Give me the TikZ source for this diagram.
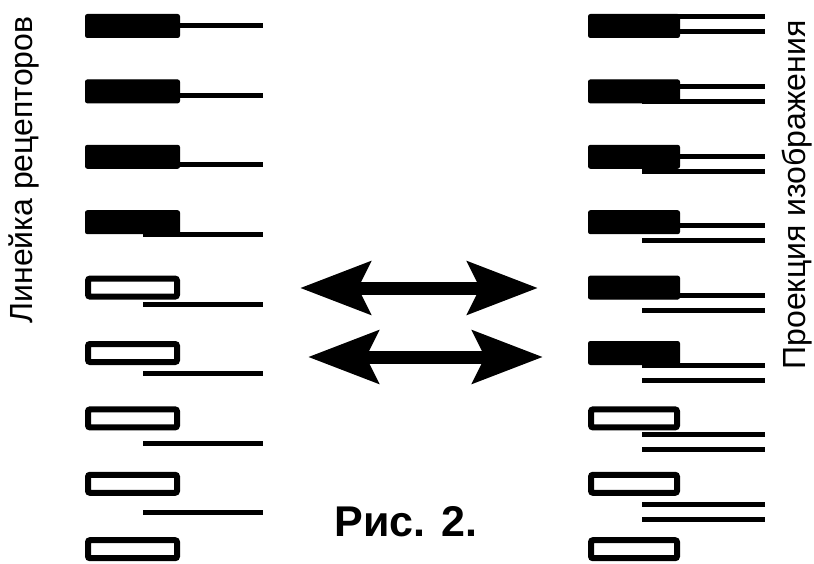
\documentclass[tikz,border=0pt]{standalone}
\usepackage{fontspec}
\setmainfont{Liberation Sans}
\usetikzlibrary{arrows.meta}

\tikzset{
  onbox/.style={fill=black,draw=black,line width=1pt,rounded corners=2pt},
  offbox/.style={fill=white,draw=black,line width=6pt,rounded corners=2pt},
  wire/.style={line width=5pt},
  twoway/.style={line width=13pt,
    {Stealth[length=70pt,width=52pt,inset=12pt]}-{Stealth[length=70pt,width=52pt,inset=12pt]}},
  sidelabel/.style={rotate=90,font=\fontsize{32}{38}\selectfont},
}

\begin{document}
\begin{tikzpicture}[x=1pt,y=-1pt]
  \useasboundingbox (0,0) rectangle (814,564);
  % receptor row (left)
  \foreach \k in {0,...,8}{
    \pgfmathsetmacro{\c}{26+65.4*\k}
    \pgfmathsetmacro{\w}{\c+4.1*\k}
    \ifnum\k<8 \draw[wire] (143,\w) -- (263,\w); \fi
    \ifnum\k<4
      \draw[onbox] (85.5,\c-11.5) rectangle (179.5,\c+11.5);
    \else
      \draw[offbox] (88,\c-9) rectangle (177,\c+9);
    \fi
  }
  % image projection (right)
  \foreach \k in {0,...,8}{
    \pgfmathsetmacro{\c}{26+65.4*\k}
    \pgfmathsetmacro{\u}{\c-9+4.2*\k}
    \ifnum\k<8
      \draw[wire] (642,\u) -- (765,\u);
      \draw[wire] (642,\u+15) -- (765,\u+15);
    \fi
    \ifnum\k<6
      \draw[onbox] (588.5,\c-11.5) rectangle (679.5,\c+11.5);
    \else
      \draw[offbox] (591,\c-9) rectangle (677,\c+9);
    \fi
  }
  \node[sidelabel] (rec) at (24,170) {Линейка рецепторов};
  \node[sidelabel] (proj) at (797,195) {Проекция изображения};
  % arrows
  \coordinate (a1l) at (300,288);
  \coordinate (a1r) at (538,288);
  \coordinate (a2l) at (308,357);
  \coordinate (a2r) at (543,357);
  \draw[twoway] (a1l) -- (a1r);
  \draw[twoway] (a2l) -- (a2r);
  \node[font=\bfseries\fontsize{43}{50}\selectfont] (fig) at (406,522) {Рис. 2.};
\end{tikzpicture}
\end{document}
